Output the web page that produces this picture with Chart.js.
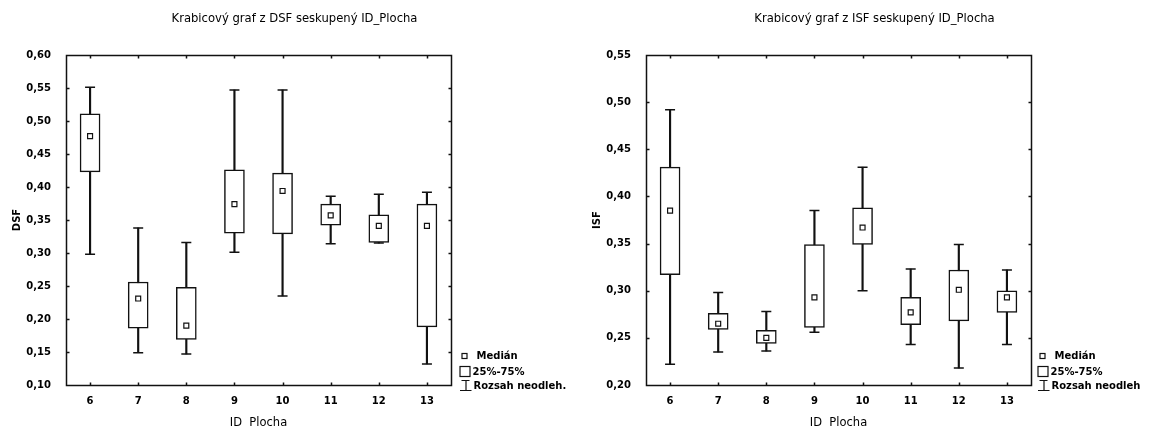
<!DOCTYPE html>
<html>
<head>
<meta charset="utf-8">
<script src="https://cdn.jsdelivr.net/npm/chart.js@4/dist/chart.umd.min.js"></script>
<style>
  html, body { margin: 0; padding: 0; background: #fff; }
  #wrap { position: relative; width: 1150px; height: 428px; overflow: hidden; background: #fff; }
  .panel { position: absolute; top: 0; width: 570px; height: 428px; }
  canvas { display: block; }
</style>
</head>
<body>
<div id="wrap">
  <div class="panel" style="left:0"><canvas id="dsf" width="570" height="428"></canvas></div>
  <div class="panel" style="left:580px"><canvas id="isf" width="570" height="428"></canvas></div>
</div>
<script>
// Plots (categories)
const plochy = ['6', '7', '8', '9', '10', '11', '12', '13'];

// DSF per plot: non-outlier range, quartiles, median
const dsfMin    = [0.298, 0.149, 0.147, 0.301, 0.235, 0.314, 0.315, 0.132];
const dsfQ1     = [0.423, 0.186, 0.169, 0.330, 0.329, 0.342, 0.316, 0.188];
const dsfMedian = [0.477, 0.231, 0.190, 0.374, 0.394, 0.357, 0.341, 0.341];
const dsfQ3     = [0.511, 0.256, 0.248, 0.426, 0.421, 0.374, 0.358, 0.374];
const dsfMax    = [0.551, 0.338, 0.316, 0.547, 0.547, 0.386, 0.389, 0.392];

// ISF per plot
const isfMin    = [0.222, 0.235, 0.236, 0.256, 0.300, 0.243, 0.218, 0.243];
const isfQ1     = [0.317, 0.259, 0.244, 0.261, 0.349, 0.264, 0.268, 0.277];
const isfMedian = [0.385, 0.265, 0.250, 0.293, 0.367, 0.277, 0.301, 0.293];
const isfQ3     = [0.431, 0.276, 0.258, 0.349, 0.388, 0.293, 0.322, 0.300];
const isfMax    = [0.492, 0.298, 0.278, 0.385, 0.431, 0.323, 0.349, 0.322];

// Y tick values
const dsfTicks = [0.10, 0.15, 0.20, 0.25, 0.30, 0.35, 0.40, 0.45, 0.50, 0.55, 0.60];
const isfTicks = [0.20, 0.25, 0.30, 0.35, 0.40, 0.45, 0.50, 0.55];

const FONT = 'DejaVu Sans';
const INK = '#111';
const LW = 1.5;
const fmt = v => v.toFixed(2).replace('.', ',');

// Box frame with short inward ticks on all four sides
const framePlugin = {
  id: 'frame',
  afterDraw(chart) {
    const { ctx, chartArea: a, scales: { x, y } } = chart;
    const L = Math.round(a.left) + 0.5, R = Math.round(a.right) + 0.5;
    const T = Math.round(a.top) + 0.5, B = Math.round(a.bottom) + 0.5;
    const tl = 3;
    ctx.save();
    ctx.strokeStyle = INK;
    ctx.lineWidth = LW;
    ctx.beginPath();
    ctx.rect(L, T, R - L, B - T);
    x.ticks.forEach((t, i) => {
      const px = Math.round(x.getPixelForTick(i)) + 0.5;
      ctx.moveTo(px, T); ctx.lineTo(px, T + tl);
      ctx.moveTo(px, B); ctx.lineTo(px, B - tl);
    });
    y.ticks.forEach(t => {
      const py = Math.round(y.getPixelForValue(t.value)) + 0.5;
      ctx.moveTo(L, py); ctx.lineTo(L + tl, py);
      ctx.moveTo(R, py); ctx.lineTo(R - tl, py);
    });
    ctx.stroke();
    ctx.restore();
  }
};

// Chart heading and the key at the lower right
const captionPlugin = {
  id: 'caption',
  afterDraw(chart, args, opts) {
    const { ctx } = chart;
    ctx.save();
    ctx.fillStyle = '#000';
    ctx.strokeStyle = INK;
    ctx.lineWidth = 1.2;
    ctx.textBaseline = 'middle';

    ctx.font = '11.6px "' + FONT + '"';
    ctx.textAlign = 'center';
    ctx.fillText(opts.title, opts.titleX, 19);

    ctx.font = 'bold 10px "' + FONT + '"';
    ctx.textAlign = 'left';
    const kx = opts.keyX;
    // median marker
    ctx.fillStyle = '#fff';
    ctx.fillRect(kx + 1.5, 353.5, 5, 5);
    ctx.strokeRect(kx + 1.5, 353.5, 5, 5);
    ctx.fillStyle = '#000';
    ctx.fillText(opts.keys[0], kx + 16, 356);
    // quartile box
    ctx.strokeRect(kx - 0.5, 366.5, 10, 10);
    ctx.fillText(opts.keys[1], kx + 12, 372);
    // range glyph
    ctx.beginPath();
    ctx.moveTo(kx + 1, 380.5); ctx.lineTo(kx + 9, 380.5);
    ctx.moveTo(kx + 5.5, 380.5); ctx.lineTo(kx + 5.5, 390.5);
    ctx.moveTo(kx - 0.5, 390.5); ctx.lineTo(kx + 11, 390.5);
    ctx.stroke();
    ctx.fillText(opts.keys[2], kx + 13, 386);
    ctx.restore();
  }
};

function boxChart(id, title, yTitle, ticks, mins, q1s, meds, q3s, maxs, keys, keyX) {
  const pts = {
    type: 'line', showLine: false,
    pointBorderColor: INK, pointBackgroundColor: '#fff', pointBorderWidth: LW,
    pointHoverBorderWidth: LW
  };
  return new Chart(document.getElementById(id), {
    type: 'bar',
    data: {
      labels: plochy,
      datasets: [
        { label: keys[2], data: plochy.map((_, i) => [mins[i], maxs[i]]),
          backgroundColor: INK, borderWidth: 0, barThickness: LW, grouped: false, order: 4 },
        { label: keys[1], data: plochy.map((_, i) => [q1s[i], q3s[i]]),
          backgroundColor: '#fff', borderColor: INK, borderWidth: LW, borderSkipped: false,
          barThickness: 20, grouped: false, order: 3 },
        Object.assign({}, pts, { data: maxs, pointStyle: 'line', pointRadius: 5, pointHoverRadius: 5, order: 2 }),
        Object.assign({}, pts, { data: mins, pointStyle: 'line', pointRadius: 5, pointHoverRadius: 5, order: 2 }),
        Object.assign({}, pts, { label: keys[0], data: meds, pointStyle: 'rect', pointRadius: 3.5,
          pointHoverRadius: 3.5, pointBorderWidth: 1.2, order: 1 })
      ]
    },
    options: {
      responsive: false,
      animation: false,
      events: [],
      layout: { padding: { left: 0, right: 119, top: 55, bottom: 0 } },
      plugins: {
        legend: { display: false },
        title: { display: false },
        tooltip: { enabled: false },
        caption: { title: title, titleX: 294.5, keys: keys, keyX: keyX }
      },
      scales: {
        x: {
          type: 'category', offset: true,
          grid: { display: false }, border: { display: false },
          ticks: { color: '#000', padding: 2, maxRotation: 0, font: { family: FONT, size: 10, weight: 'bold' } },
          title: { display: true, text: 'ID  Plocha', color: '#000', padding: 0,
                   font: { family: FONT, size: 11.5, lineHeight: 0.9 } },
          afterFit: s => { s.height = 43; }
        },
        y: {
          min: ticks[0], max: ticks[ticks.length - 1],
          grid: { display: false }, border: { display: false },
          afterBuildTicks: s => { s.ticks = ticks.map(v => ({ value: v })); },
          ticks: { color: '#000', padding: 7, callback: v => fmt(v),
                   font: { family: FONT, size: 10, weight: 'bold' } },
          title: { display: true, text: yTitle, color: '#000', padding: { top: 11, bottom: 0 },
                   font: { family: FONT, size: 10, weight: 'bold' } },
          afterFit: s => { s.width = 66; }
        }
      }
    },
    plugins: [framePlugin, captionPlugin]
  });
}

boxChart('dsf', 'Krabicový graf z DSF seskupený ID_Plocha', 'DSF', dsfTicks,
  dsfMin, dsfQ1, dsfMedian, dsfQ3, dsfMax, ['Medián', '25%-75%', 'Rozsah neodleh.'], 460.5);
boxChart('isf', 'Krabicový graf z ISF seskupený ID_Plocha', 'ISF', isfTicks,
  isfMin, isfQ1, isfMedian, isfQ3, isfMax, ['Medián', '25%-75%', 'Rozsah neodleh'], 458.5);
</script>
</body>
</html>
